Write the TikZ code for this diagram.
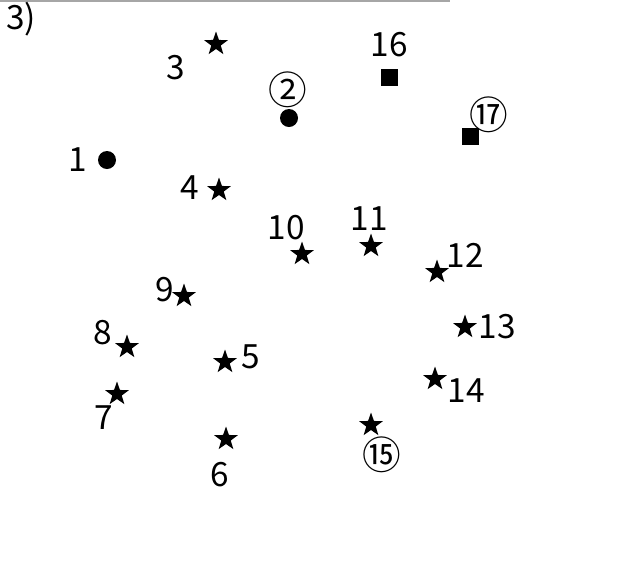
\documentclass[tikz,border=0pt]{standalone}
\usepackage{fontspec}
\setmainfont{Noto Sans CJK JP}
\usetikzlibrary{shapes.geometric}
\begin{document}
\begin{tikzpicture}[x=0.02cm,y=-0.02cm]
    \tikzstyle{star5}=[star, star points=5, star point ratio=2.5, fill=black, inner sep=0pt, minimum size=0.5cm]
    \tikzstyle{dot}=[circle, fill=black, inner sep=0pt, minimum size=0.36cm]
    \tikzstyle{box}=[rectangle, fill=black, inner sep=0pt, minimum size=0.34cm]
    \tikzstyle{num}=[inner sep=0pt, font=\fontsize{19}{21}\selectfont]
    \tikzstyle{cnum}=[inner sep=0pt, font=\fontsize{22}{24}\selectfont]
    \useasboundingbox (0,0) rectangle (631,566);
    \draw[gray!70, line width=0.04cm] (0,1) -- (450,1);
    \node[num, anchor=base west] (title) at (6,29) {3)};
    % markers
    \node[dot] (p1) at (107,160) {};
    \node[dot] (p2) at (289,118) {};
    \node[star5] (p3) at (216,44) {};
    \node[star5] (p4) at (219,190) {};
    \node[star5] (p5) at (225,362) {};
    \node[star5] (p6) at (226,439) {};
    \node[star5] (p7) at (117,394) {};
    \node[star5] (p8) at (127,347) {};
    \node[star5] (p9) at (184,296) {};
    \node[star5] (p10) at (302,254) {};
    \node[star5] (p11) at (371,246) {};
    \node[star5] (p12) at (437,272) {};
    \node[star5] (p13) at (465,327) {};
    \node[star5] (p14) at (435,379) {};
    \node[star5] (p15) at (371,425) {};
    \node[box] (p16) at (389,77) {};
    \node[box] (p17) at (470,136) {};
    % labels
    \node[num] (l1) at (78,160) {1};
    \node[cnum] (l2) at (288,90) {②};
    \node[num] (l3) at (176,68) {3};
    \node[num] (l4) at (190,188) {4};
    \node[num] (l5) at (251,357) {5};
    \node[num] (l6) at (220,475) {6};
    \node[num] (l7) at (104,418) {7};
    \node[num] (l8) at (103,333) {8};
    \node[num] (l9) at (165,290) {9};
    \node[num] (l10) at (286,228) {10};
    \node[num] (l11) at (369,219) {11};
    \node[num] (l12) at (465,255) {12};
    \node[num] (l13) at (497,327) {13};
    \node[num] (l14) at (466,391) {14};
    \node[cnum] (l15) at (382,455) {⑮};
    \node[num] (l16) at (389,45) {16};
    \node[cnum] (l17) at (489,115) {⑰};
\end{tikzpicture}
\end{document}
